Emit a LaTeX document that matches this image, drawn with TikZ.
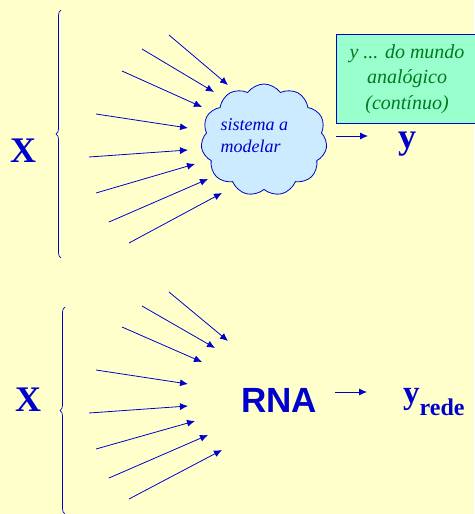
\documentclass[tikz,border=0pt]{standalone}
\usepackage{fontspec}
\setmainfont{Liberation Serif}
\newfontfamily\arialfont{Liberation Sans}
\usetikzlibrary{shapes.symbols,decorations.pathreplacing,arrows.meta}
\definecolor{bgyellow}{HTML}{FFFFCC}
\definecolor{dblue}{HTML}{0000CC}
\definecolor{cloudblue}{HTML}{CCEBFF}
\definecolor{mint}{HTML}{99FFCC}
\definecolor{dgreen}{HTML}{007A1F}
\tikzset{
  inarrow/.style={draw=dblue, line width=0.8pt, -{Latex[length=8pt,width=7pt]}},
  bracestyle/.style={draw=dblue, line width=0.7pt, decorate, decoration={brace, amplitude=5pt}},
  bigletter/.style={text=dblue, font=\fontsize{36}{40}\selectfont\bfseries, inner sep=0pt},
}
\begin{document}
\begin{tikzpicture}[x=1pt,y=-1pt]
\fill[bgyellow] (0,0) rectangle (474,514);
\useasboundingbox (0,0) rectangle (474,514);

% ---------- top ----------
\draw[bracestyle] (61,258) -- (61,10);
\node[bigletter] (X1) at (23,151) {X};

\node[cloud, cloud puffs=11, cloud puff arc=110, aspect=1.15, draw=dblue, fill=cloudblue, line width=0.8pt,
      minimum width=126pt, minimum height=112pt, inner sep=0pt] (cloud) at (264,140) {};
\node[text=dblue, font=\fontsize{18}{22}\selectfont\itshape, align=left, anchor=west] (ctext) at (217,136)
  {sistema a\\modelar};

\foreach \i/\sx/\sy/\ex/\ey in {1/169/35/228/85, 2/142/49/214/92, 3/122/71/202/107, 4/96/114/188/128,
  5/89/157/188/150, 6/96/193/195/164, 7/109/222/208/179, 8/129/243/222/193}{
  \coordinate (ta\i) at (\sx,\sy);
  \coordinate (tb\i) at (\ex,\ey);
  \draw[inarrow] (ta\i) -- (tb\i);
}

\draw[draw=dblue, fill=mint, line width=0.8pt] (336,34) rectangle (478,123);
\node[text=dgreen, font=\fontsize{20}{25.5}\selectfont\itshape, align=center] (gtext) at (407,79)
  {y ... do mundo\\analógico\\(contínuo)};

\coordinate (ca) at (336,136);
\node[bigletter, anchor=base] (Y1) at (407,148) {y};
\coordinate (cb) at (368,136);
\draw[inarrow] (ca) -- (cb);

% ---------- bottom ----------
\draw[bracestyle] (65,514) -- (65,307);
\node[bigletter] (X2) at (28,400) {X};

\foreach \i/\sx/\sy/\ex/\ey in {1/169/292/228/341, 2/142/306/215/348, 3/122/327/202/362, 4/96/370/188/384,
  5/89/413/188/406, 6/96/449/195/421, 7/109/478/208/435, 8/129/499/222/450}{
  \coordinate (ba\i) at (\sx,\sy);
  \coordinate (bb\i) at (\ex,\ey);
  \draw[inarrow] (ba\i) -- (bb\i);
}

\node[text=dblue, font=\arialfont\fontsize{35}{40}\selectfont\bfseries, inner sep=0pt, anchor=base] (rna) at (279,412) {RNA};
\coordinate (ra) at (335,392);
\coordinate (rb) at (367,392);
\draw[inarrow] (ra) -- (rb);
\node[text=dblue, font=\fontsize{33}{40}\selectfont\bfseries, inner sep=0pt, anchor=base west] (yrede) at (403,403)
  {y\raisebox{-12pt}{\fontsize{24}{26}\selectfont rede}};
\end{tikzpicture}
\end{document}
